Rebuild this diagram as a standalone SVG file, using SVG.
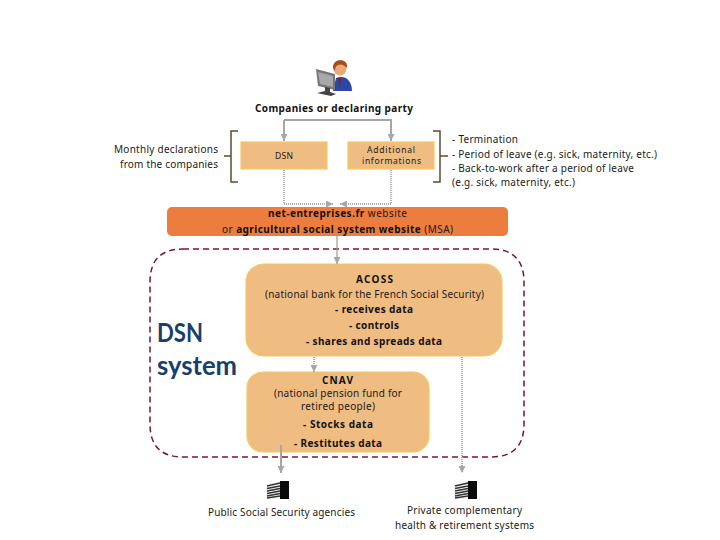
<svg xmlns="http://www.w3.org/2000/svg" width="720" height="540" viewBox="0 0 720 540">
<style>
text{font-family:"Noto Sans","Open Sans","Liberation Sans",sans-serif;font-size:10px;fill:#1a1a1a}
.b{font-weight:700;fill:#111}
.s{font-size:8.5px}
.sys{font-family:Lato,"Noto Sans",sans-serif;font-size:26px;font-weight:700;fill:#17406d}
.box{fill:#efbc82;stroke:#f5c860;stroke-width:1.2}
.bar{fill:#ed7d3e}
.solid{fill:none;stroke:#a6a6a6;stroke-width:2}
.thin{fill:none;stroke:#a09a90;stroke-width:1.2}
.dot{fill:none;stroke:#b0b0b0;stroke-width:2.2;stroke-dasharray:1 1}
.br{fill:none;stroke:#5f4a32;stroke-width:1.5}
.frame{fill:none;stroke:#7b1530;stroke-width:1.5;stroke-dasharray:6 4}
</style>
<defs>
<marker id="ah" markerUnits="userSpaceOnUse" markerWidth="8" markerHeight="7" refX="7" refY="3.5" orient="auto"><path d="M0 0L7 3.5L0 7z" fill="#a6a6a6"/></marker>
<g id="bld">
<path d="M0 4L14 0V18H0z" fill="#f4f4f4"/>
<path d="M1 5L14 2M1 7.500L14 5M1 10L14 7.500M1 12.500L14 10M1 15L14 12.500M1 17L14 15" stroke="#333" stroke-width="1.300" fill="none"/>
<path d="M14 0H23V18H14z" fill="#0a0a0a"/>
</g>
</defs>

<g id="icon">
<path d="M336 78Q341 76 346 78Q352 82 352 91H333z" fill="#2b48a8"/>
<path d="M338 78L341 78L340 88z" fill="#8c1a2c"/>
<circle cx="340" cy="69" r="6.500" fill="#eda878"/>
<path d="M333 68Q333 60 341 60Q348 61 347 68Q342 63 338 65Q335 66 335 71z" fill="#a2501f"/>
<path d="M316 69L335 74V90L318 86z" fill="#777"/>
<path d="M318 72L333 76V87L320 84z" fill="#a8a8a8"/>
<path d="M325 87L330 88V92L336 94L331 96L317 93L325 91z" fill="#444"/>
</g>
<g id="companies"><text class="b" x="255" y="112" textLength="158">Companies or declaring party</text></g>

<g id="bracket-left"><path class="br" d="M238 131H231V182H238M231 156H224"/></g>
<g id="bracket-right"><path class="br" d="M433 131H440V182H433M440 156H448"/></g>

<g id="monthly">
<text x="114" y="153" textLength="104">Monthly declarations</text>
<text x="120" y="168" textLength="98">from the companies</text>
</g>
<g id="dsn"><rect class="box" x="241" y="142" width="86" height="27"/><text class="s" x="275" y="159" textLength="18">DSN</text></g>
<g id="additional"><rect class="box" x="348" y="142" width="86" height="27"/>
<text class="s" x="367" y="152.500" textLength="48">Additional</text>
<text class="s" x="362" y="163.500" textLength="59">informations</text></g>
<g id="list">
<text x="452" y="143" textLength="66">- Termination</text>
<text x="452" y="158" textLength="205">- Period of leave (e.g. sick, maternity, etc.)</text>
<text x="452" y="172" textLength="182">- Back-to-work after a period of leave</text>
<text x="452" y="186" textLength="123">(e.g. sick, maternity, etc.)</text>
</g>

<g id="website"><rect class="bar" x="167" y="207" width="341" height="29" rx="5"/>
<text x="268" y="217" textLength="139"><tspan class="b">net-entreprises.fr </tspan>website</text>
<text x="222" y="233" textLength="231">or <tspan class="b">agricultural social system website</tspan> (MSA)</text></g>

<g id="dsn-system">
<path class="frame" d="M183 249H491Q524 249 524 282V424Q524 457 491 457H183Q150 457 150 424V282Q150 249 183 249z"/>
<text class="sys" x="157" y="342" textLength="46" lengthAdjust="spacingAndGlyphs">DSN</text>
<text class="sys" x="157" y="375" textLength="80" lengthAdjust="spacingAndGlyphs">system</text>
</g>

<g id="acoss"><rect class="box" x="246" y="264" width="256" height="92" rx="18"/>
<text class="b" x="356" y="283" textLength="37">ACOSS</text>
<text x="265" y="298" textLength="219">(national bank for the French Social Security)</text>
<text class="b" x="335" y="313" textLength="78">- receives data</text>
<text class="b" x="349" y="329" textLength="50">- controls</text>
<text class="b" x="306" y="345" textLength="136">- shares and spreads data</text></g>

<g id="cnav"><rect class="box" x="247" y="372" width="182" height="80" rx="16"/>
<text class="b" x="322" y="384" textLength="31">CNAV</text>
<text x="274" y="397" textLength="128">(national pension fund for</text>
<text x="301" y="410" textLength="74">retired people)</text>
<text class="b" x="303" y="428" textLength="70">- Stocks data</text>
<text class="b" x="294" y="447" textLength="88">- Restitutes data</text></g>

<g id="connectors">
<path class="solid" d="M284 120H391V141" marker-end="url(#ah)"/>
<path class="solid" d="M284 120V141" marker-end="url(#ah)"/>
<path class="dot" d="M284 170V204H333" marker-end="url(#ah)"/>
<path class="dot" d="M391 170V204H340" marker-end="url(#ah)"/>
<path class="thin" d="M337 236V264" marker-end="url(#ah)"/>
<path class="dot" d="M314 357V372" marker-end="url(#ah)"/>
<path class="dot" d="M462 357V473" marker-end="url(#ah)"/>
<path class="solid" d="M281 445V473" marker-end="url(#ah)"/>
</g>

<g id="public"><use href="#bld" x="266" y="481"/><text x="208" y="516" textLength="147">Public Social Security agencies</text></g>
<g id="private"><use href="#bld" x="454" y="481"/>
<text x="407" y="514" textLength="115">Private complementary</text>
<text x="395" y="529" textLength="139">health &amp; retirement systems</text></g>
</svg>
